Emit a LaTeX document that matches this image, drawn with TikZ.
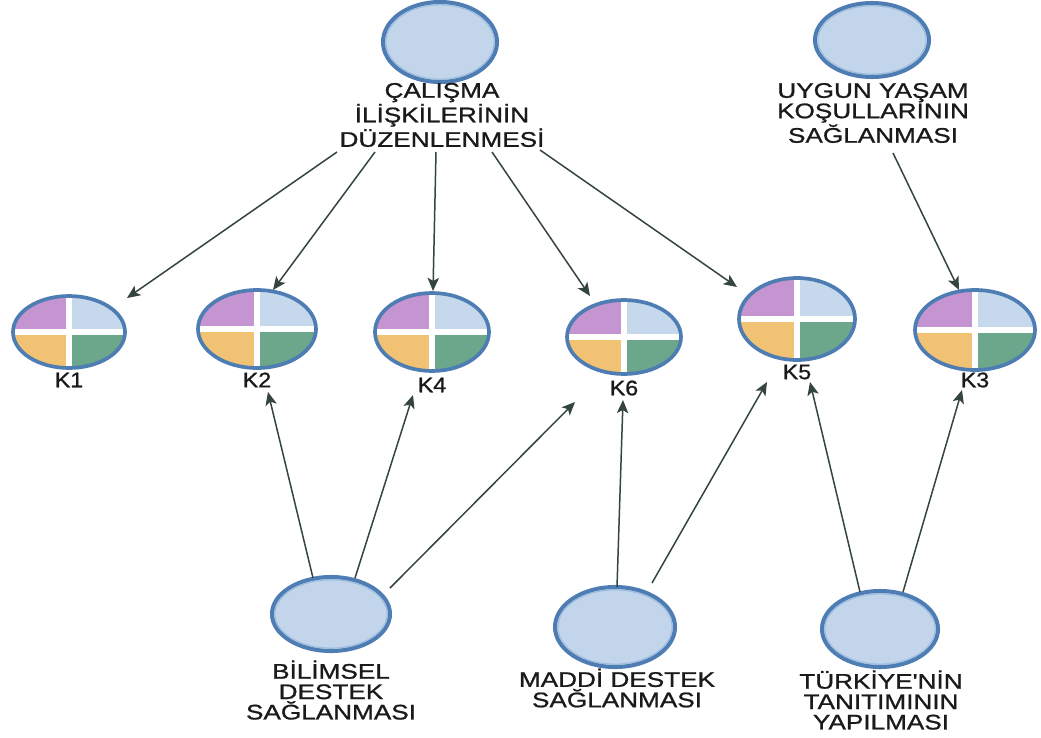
\documentclass[tikz,border=0pt]{standalone}
\usepackage{fontspec}
\setmainfont{Liberation Sans}
\newfontfamily\lblfont[FakeStretch=1.24,FakeBold=1]{Liberation Sans}
\newfontfamily\kfont[FakeStretch=1.1,FakeBold=1]{Liberation Sans}
\usetikzlibrary{shapes.geometric,arrows.meta,calc}

\definecolor{ringblue}{HTML}{4E7DB3}
\definecolor{innerblue}{HTML}{9DBDE0}
\definecolor{fillblue}{HTML}{C3D5EB}
\definecolor{qpurple}{HTML}{C495D0}
\definecolor{qblue}{HTML}{C6D8EC}
\definecolor{qorange}{HTML}{F1C174}
\definecolor{qgreen}{HTML}{6CA68B}
\definecolor{arrowgray}{HTML}{34443E}
\definecolor{txt}{HTML}{1A1A1A}

\begin{document}
\begin{tikzpicture}[x=0.02cm,y=-0.02cm,
  bigell/.style={ellipse, draw=ringblue, fill=fillblue, line width=2.3pt, inner sep=0pt, outer sep=0pt},
  kell/.style={ellipse, draw=ringblue, line width=2.1pt, inner sep=0pt, outer sep=0pt},
  lbl/.style={font=\lblfont\fontsize{12}{11.6}\selectfont, text=txt, align=center, inner sep=0pt},
  klbl/.style={font=\kfont\fontsize{12}{11.6}\selectfont, text=txt, inner sep=0pt},
  arr/.style={draw=arrowgray, line width=0.85pt, -{Stealth[length=7.5pt,width=6.5pt,inset=1.8pt]}},
]
\fill[white] (0,0) rectangle (1041,737);
\useasboundingbox (0,0) rectangle (1041,737);

% plain goal / support nodes
\foreach \n/\x/\y/\rx/\ry in {c/440/42/57/40, u/872/40/57/37, b1/331/614/59/37, b2/615/627/60/40, b3/880/629/58/38} {
  \node[bigell, minimum width=2*\rx*0.02cm, minimum height=2*\ry*0.02cm] (\n) at (\x,\y) {};
  \draw[innerblue, line width=0.7pt] (\n.center) ellipse [x radius=\rx-2.8, y radius=\ry-2.8];
}

% four-quadrant K nodes with their captions
\foreach \n/\x/\y/\rx/\ry/\t/\ly in {k1/69/332/56/36/K1/380, k2/257/329/59/39/K2/380, k4/432/332/57/39/K4/385, k6/624/337/57/37/K6/388, k5/797/319/58/41/K5/372, k3/975/330/60/40/K3/380} {
  \begin{scope}
    \clip (\x,\y) ellipse [x radius=\rx, y radius=\ry];
    \fill[qpurple] (\x-\rx,\y-\ry) rectangle (\x,\y);
    \fill[qblue] (\x,\y-\ry) rectangle (\x+\rx,\y);
    \fill[qorange] (\x-\rx,\y) rectangle (\x,\y+\ry);
    \fill[qgreen] (\x,\y) rectangle (\x+\rx,\y+\ry);
    \draw[white, line width=3.6pt] (\x-\rx,\y) -- (\x+\rx,\y) (\x,\y-\ry) -- (\x,\y+\ry);
  \end{scope}
  \node[kell, minimum width=2*\rx*0.02cm, minimum height=2*\ry*0.02cm] (\n) at (\x,\y) {};
  \node[klbl] (\n-l) at (\x,\ly) {\t};
}

% captions of the plain nodes
\node[lbl] (c-l) at (442,115) {ÇALIŞMA\\İLİŞKİLERİNİN\\DÜZENLENMESİ};
\node[lbl] (u-l) at (873,113) {UYGUN YAŞAM\\KOŞULLARININ\\SAĞLANMASI};
\node[lbl] (b1-l) at (331,690) {BİLİMSEL\\DESTEK\\SAĞLANMASI};
\node[lbl] (b2-l) at (617,688) {MADDİ DESTEK\\SAĞLANMASI};
\node[lbl] (b3-l) at (881,700) {TÜRKİYE'NİN\\TANITIMININ\\YAPILMASI};

% links from the top nodes
\draw[arr] ($(c-l.center)+(-105,37)$) -- ($(k1)+(58,-34)$);
\draw[arr] ($(c-l.center)+(-67,37)$) -- ($(k2)+(16,-39)$);
\draw[arr] ($(c-l.center)+(-6,37)$) -- ($(k4)+(1,-41)$);
\draw[arr] ($(c-l.center)+(50,37)$) -- ($(k6)+(-34,-41)$);
\draw[arr] ($(c-l.center)+(98,35)$) -- ($(k5)+(-60,-32)$);
\draw[arr] ($(u-l.center)+(20,40)$) -- ($(k3)+(-16,-40)$);

% links from the bottom nodes
\draw[arr] ($(b1)+(-18,-36)$) -- ($(k2-l)+(11,12)$);
\draw[arr] ($(b1)+(24,-36)$) -- ($(k4-l)+(-19,10)$);
\draw[arr] ($(b1)+(59,-26)$) -- ($(k6-l)+(-49,14)$);
\draw[arr] ($(b2)+(2,-40)$) -- ($(k6-l)+(-1,12)$);
\draw[arr] ($(b2)+(37,-44)$) -- ($(k5-l)+(-30,10)$);
\draw[arr] ($(b3)+(-20,-37)$) -- ($(k5-l)+(13,10)$);
\draw[arr] ($(b3)+(23,-37)$) -- ($(k3-l)+(-13,10)$);
\end{tikzpicture}
\end{document}
